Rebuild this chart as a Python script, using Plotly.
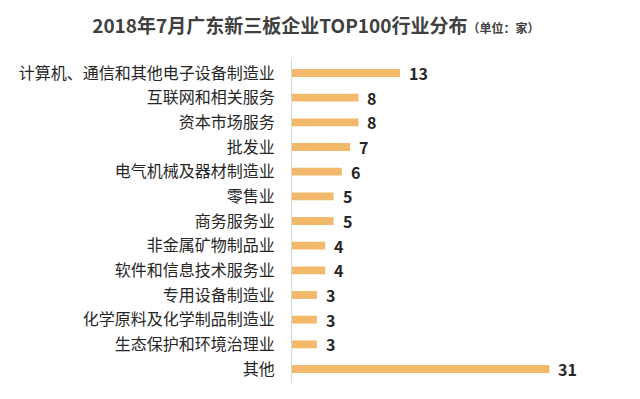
import plotly.graph_objects as go

categories = ["计算机、通信和其他电子设备制造业", "互联网和相关服务", "资本市场服务", "批发业",
              "电气机械及器材制造业", "零售业", "商务服务业", "非金属矿物制品业",
              "软件和信息技术服务业", "专用设备制造业", "化学原料及化学制品制造业",
              "生态保护和环境治理业", "其他"]
values = [13, 8, 8, 7, 6, 5, 5, 4, 4, 3, 3, 3, 31]

font_family = "Noto Sans CJK SC, Noto Sans, sans-serif"

fig = go.Figure()
fig.add_trace(go.Bar(
    y=categories, x=values, orientation="h",
    marker=dict(color="#F2B96B", line=dict(width=0)),
    width=0.32,
    hoverinfo="skip",
))

for c, v in zip(categories, values):
    fig.add_annotation(x=v, y=c, text=f"<b>{v}</b>", showarrow=False,
                       xanchor="left", xshift=7,
                       font=dict(size=16, color="#262626", family=font_family))

fig.update_layout(
    width=640, height=399,
    margin=dict(l=284, r=28, t=51, b=23.5),
    paper_bgcolor="white", plot_bgcolor="white",
    showlegend=False,
    title=dict(
        text="<b>2018年7月广东新三板企业TOP100行业分布</b><span style='font-size:12px'><b>（单位：家）</b></span>",
        x=0.481, xanchor="center", y=0.955, yanchor="middle",
        font=dict(size=19, color="#404040", family=font_family),
    ),
    xaxis=dict(range=[0, 39.5], visible=False, fixedrange=True),
    yaxis=dict(autorange="reversed", showline=True, linecolor="#D9D9D9", linewidth=1,
               ticks="", showgrid=False, zeroline=False,
               ticklabelstandoff=13,
               tickfont=dict(size=16, color="#262626", family=font_family)),
)

fig.write_html("out.html")
